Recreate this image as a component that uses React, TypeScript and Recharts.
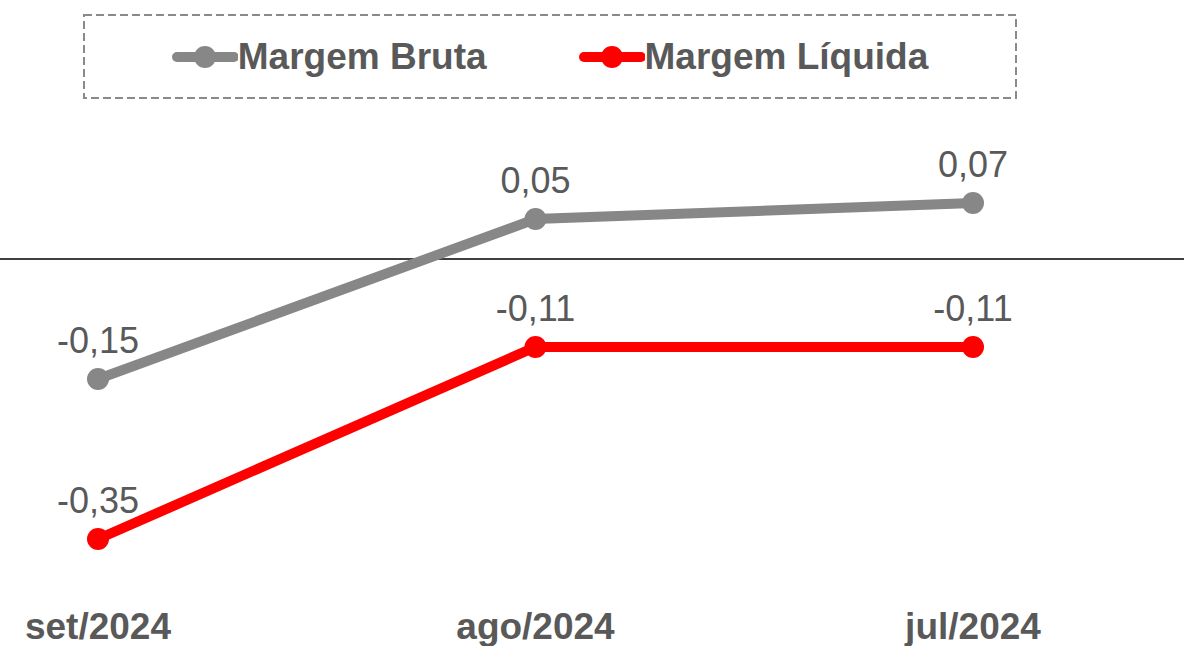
import { LineChart, Line, XAxis, YAxis, CartesianGrid, Legend, LabelList } from 'recharts';

const months = ['set/2024', 'ago/2024', 'jul/2024'];
const margemBruta = [-0.15, 0.05, 0.07];
const margemLiquida = [-0.35, -0.11, -0.11];

const series = [
  { key: 'bruta', name: 'Margem Bruta', color: '#878787', values: margemBruta },
  { key: 'liquida', name: 'Margem Líquida', color: '#ff0000', values: margemLiquida },
];

const data = months.map((month, i) => ({
  month,
  bruta: margemBruta[i],
  liquida: margemLiquida[i],
}));

const FONT = '"Liberation Sans", Arial, sans-serif';
const TEXT = '#595959';

const fmt = (v: any) => Number(v).toFixed(2).replace('.', ',');

const LegendBox = () => (
  <div
    style={{
      position: 'relative',
      width: 934,
      height: 85,
      display: 'flex',
      alignItems: 'center',
      justifyContent: 'center',
      gap: 92,
      fontFamily: FONT,
    }}
  >
    <svg width={934} height={85} style={{ position: 'absolute', left: 0, top: 0 }}>
      <rect x={1} y={1} width={932} height={83} fill="none" stroke="#8a8a8a" strokeWidth={2} strokeDasharray="8 4" />
    </svg>
    {series.map(s => (
      <div key={s.key} style={{ display: 'flex', alignItems: 'center', position: 'relative' }}>
        <svg width={66} height={24} style={{ marginRight: 0 }}>
          <line x1={5} y1={12} x2={62} y2={12} stroke={s.color} strokeWidth={10} strokeLinecap="round" />
          <circle cx={33} cy={12} r={11} fill={s.color} />
        </svg>
        <span style={{ fontSize: 37, fontWeight: 'bold', color: TEXT }}>{s.name}</span>
      </div>
    ))}
  </div>
);

export default function App() {
  return (
    <div style={{ position: 'absolute', top: 0, left: 0, width: 1184, height: 646 }}>
      <LineChart width={1184} height={646} data={data} margin={{ top: 99, right: 0, bottom: 0, left: 0 }}>
        <CartesianGrid horizontal vertical={false} horizontalValues={[0]} stroke="#000" strokeWidth={1.5} />
        <XAxis
          dataKey="month"
          axisLine={false}
          tickLine={false}
          tickSize={0}
          tickMargin={-6}
          height={27}
          padding={{ left: 98, right: 211 }}
          tick={{ fontSize: 37, fontWeight: 'bold', fill: TEXT, fontFamily: FONT }}
        />
        <YAxis hide domain={[-0.45, 0.2]} />
        <Legend
          verticalAlign="middle"
          align="center"
          layout="horizontal"
          wrapperStyle={{ top: 14, left: 83, width: 934 }}
          content={() => <LegendBox />}
        />
        {series.map(s => (
          <Line
            key={s.key}
            dataKey={s.key}
            name={s.name}
            stroke={s.color}
            strokeWidth={10}
            dot={{ r: 11, fill: s.color, stroke: 'none' }}
            activeDot={false}
            isAnimationActive={false}
          >
            <LabelList
              dataKey={s.key}
              position="top"
              offset={26}
              formatter={fmt}
              style={{ fontSize: 36, fill: TEXT, fontFamily: FONT }}
            />
          </Line>
        ))}
      </LineChart>
    </div>
  );
}
